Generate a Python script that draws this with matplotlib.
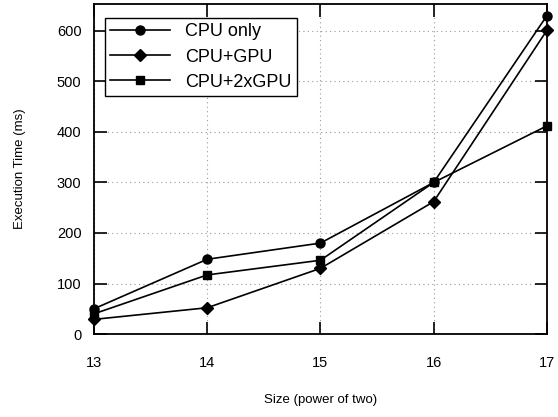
import matplotlib
matplotlib.use('Agg')
import matplotlib.pyplot as plt

plt.rcParams['font.family'] = ['Liberation Sans', 'DejaVu Sans']

sizes = [13, 14, 15, 16, 17]
cpu_only = [50, 148, 180, 300, 630]
cpu_gpu = [29, 52, 130, 262, 601]
cpu_2gpu = [40, 117, 146, 300, 412]

series = [
    ('CPU only', cpu_only, 'o', 6.5),
    ('CPU+GPU', cpu_gpu, 'D', 6.5),
    ('CPU+2xGPU', cpu_2gpu, 's', 6),
]

fig = plt.figure(figsize=(5.58, 4.17), dpi=100)
ax = fig.add_axes([0.1685, 0.199, 0.8115, 0.791])

for label, vals, marker, ms in series:
    ax.plot(sizes, vals, color='black', linewidth=1.2, marker=marker,
            markersize=ms, label=label, clip_on=False, zorder=3)

ax.set_xlim(13, 17)
ax.set_ylim(0, 653)
ax.set_xticks(sizes)
ax.set_yticks(range(0, 700, 100))
ax.grid(True, color='#999999', linestyle=(0, (1, 3)), linewidth=0.8)

ax.tick_params(direction='in', length=9, width=1.2, top=True, right=True,
               labelsize=10.5)
ax.tick_params(axis='x', pad=16)
ax.tick_params(axis='y', pad=9)
for s in ax.spines.values():
    s.set_linewidth(1.3)

ax.set_xlabel('Size (power of two)', fontsize=9.5, labelpad=17)
ax.set_ylabel('Execution Time (ms)', fontsize=9.5, labelpad=22)

leg = ax.legend(loc='upper left', bbox_to_anchor=(0.024, 0.958), fontsize=13,
                fancybox=False, framealpha=1, edgecolor='black',
                handlelength=3.3, handletextpad=0.85, borderaxespad=0,
                labelspacing=0.45, borderpad=0.3)
leg.get_frame().set_linewidth(1.0)

fig.savefig('out.png', dpi=100)
